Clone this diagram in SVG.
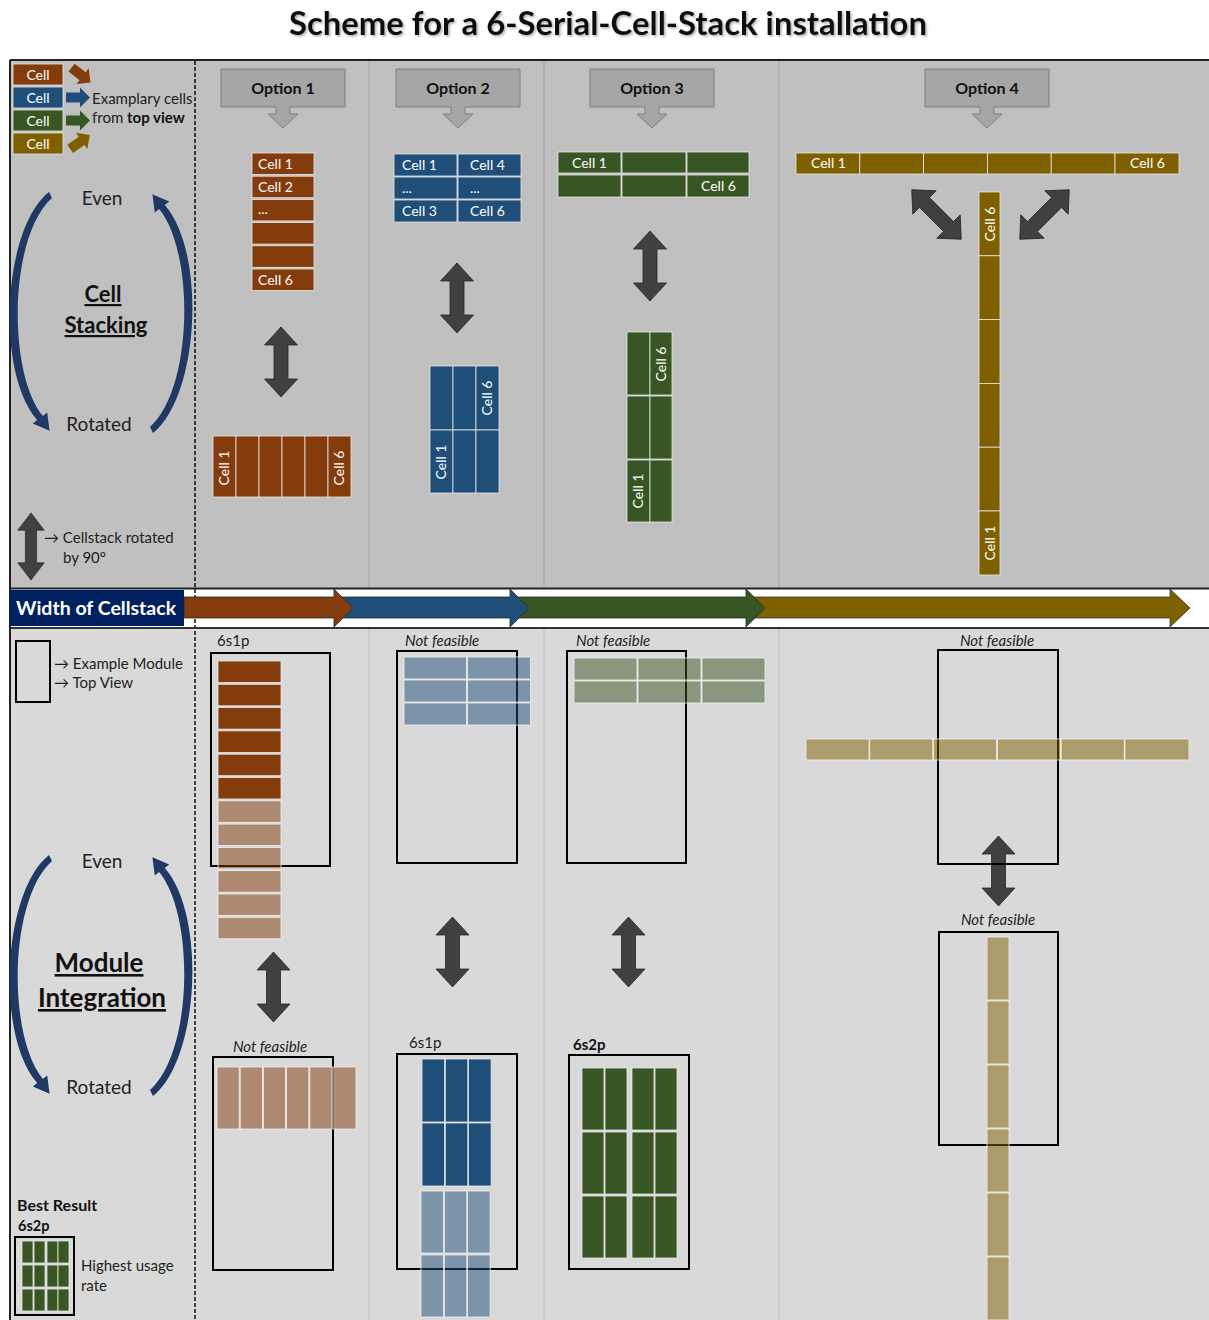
<svg xmlns="http://www.w3.org/2000/svg" xmlns:xlink="http://www.w3.org/1999/xlink" width="1209" height="1320" viewBox="0 0 1209 1320">
  <style>
    text { font-family: Lato, "Liberation Sans", sans-serif; }
    .title { font-size: 33px; font-weight: bold; fill: #111; }
    .hdr { font-size: 16px; font-weight: bold; fill: #111; text-anchor: middle; }
    .ct { font-size: 14px; fill: #fff; }
    .ctm { font-size: 14px; fill: #fff; text-anchor: middle; }
    .lbl { font-size: 15px; fill: #222; }
    .nf { font-size: 15px; font-style: italic; fill: #222; }
    .big { font-size: 19px; fill: #222; text-anchor: middle; }
    .sec { font-size: 22px; font-weight: bold; fill: #111; text-anchor: middle; text-decoration: underline; }
    .sec2 { font-size: 26px; font-weight: bold; fill: #111; text-anchor: middle; text-decoration: underline; }
    .c1 { fill: #843c0c; stroke: #e6e6e6; stroke-width: 0.8; }
    .c2 { fill: #1f4e79; stroke: #e6e6e6; stroke-width: 0.8; }
    .c3 { fill: #375623; stroke: #e6e6e6; stroke-width: 0.8; }
    .c4 { fill: #7f6000; stroke: #e6e6e6; stroke-width: 0.8; }
    .l1 { fill: #843c0c; fill-opacity: 0.5; stroke: #f0f0f0; stroke-width: 0.8; }
    .l2 { fill: #1f4e79; fill-opacity: 0.5; stroke: #f0f0f0; stroke-width: 0.8; }
    .l3 { fill: #375623; fill-opacity: 0.5; stroke: #f0f0f0; stroke-width: 0.8; }
    .l4 { fill: #7f6000; fill-opacity: 0.5; stroke: #f0f0f0; stroke-width: 0.8; }
    .mod { fill: none; stroke: #000; stroke-width: 2; }
    .callout { fill: #a6a6a6; stroke: #7f7f7f; stroke-width: 1; }
    .sep { stroke: #a6a6a6; stroke-width: 1; }
    .dbl { fill: #404040; stroke: #262626; stroke-width: 0.8; }
    .arc { fill: #1f3864; }
  </style>
  <defs>
    <filter id="shadow" x="-5%" y="-20%" width="110%" height="150%">
      <feDropShadow dx="1.5" dy="1.5" stdDeviation="1" flood-color="#777" flood-opacity="0.6"/>
    </filter>
    <!-- vertical double-headed block arrow, centred on the origin -->
    <path id="dblArrow" d="M0,-35 L16.5,-17 L7,-17 L7,17 L16.5,17 L0,35 L-16.5,17 L-7,17 L-7,-17 L-16.5,-17 Z"/>
    <!-- small block arrow pointing right -->
    <path id="smallArrow" d="M-12,-5 L2,-5 L2,-10 L12,0 L2,10 L2,5 L-12,5 Z"/>
    <!-- curved arrow on the left side, head at the bottom -->
    <path id="curve" d="M49,192 C3,228 -5,372 37.2,420.1 L32.8,423.4 L49.6,430.8 L47.2,412.6 L42.8,415.9 C7,372 9,236 52,198 Z"/>
  </defs>

  <!-- page -->
  <rect x="0" y="0" width="1209" height="1320" fill="#fff"/>
  <text class="title" x="608" y="35" text-anchor="middle" textLength="638" lengthAdjust="spacingAndGlyphs" filter="url(#shadow)">Scheme for a 6-Serial-Cell-Stack installation</text>

  <!-- panels -->
  <g id="panels">
    <rect x="10" y="60" width="1199" height="528" fill="#c0c0c0"/>
    <rect x="10" y="628" width="1199" height="692" fill="#d9d9d9"/>
    <rect x="10" y="589" width="1199" height="39" fill="#fff"/>
    <line class="sep" x1="369" y1="61" x2="369" y2="588"/>
    <line class="sep" x1="544" y1="61" x2="544" y2="588"/>
    <line class="sep" x1="779" y1="61" x2="779" y2="588"/>
    <line class="sep" x1="369" y1="629" x2="369" y2="1320" stroke-dasharray="1 1"/>
    <line class="sep" x1="544" y1="629" x2="544" y2="1320" stroke-dasharray="1 1"/>
    <line class="sep" x1="779" y1="629" x2="779" y2="1320" stroke-dasharray="1 1"/>
    <line x1="195" y1="61" x2="195" y2="1320" stroke="#111" stroke-width="1.5" stroke-dasharray="4 2"/>
    <line x1="10" y1="60" x2="1209" y2="60" stroke="#222" stroke-width="2"/>
    <line x1="10" y1="588.5" x2="1209" y2="588.5" stroke="#222" stroke-width="2"/>
    <line x1="10" y1="628" x2="1209" y2="628" stroke="#333" stroke-width="2"/>
    <line x1="10" y1="60" x2="10" y2="1320" stroke="#222" stroke-width="2"/>
  </g>

  <!-- legend: exemplary cells -->
  <g id="legend-cells">
    <rect class="c1" x="13" y="64" width="50" height="21"/>
    <rect class="c2" x="13" y="87" width="50" height="21"/>
    <rect class="c3" x="13" y="110" width="50" height="21"/>
    <rect class="c4" x="13" y="133" width="50" height="21"/>
    <text class="ctm" x="38" y="79.5">Cell</text>
    <text class="ctm" x="38" y="102.5">Cell</text>
    <text class="ctm" x="38" y="125.5">Cell</text>
    <text class="ctm" x="38" y="148.5">Cell</text>
    <use href="#smallArrow" fill="#843c0c" transform="translate(81,75) rotate(38)"/>
    <use href="#smallArrow" fill="#1f4e79" transform="translate(78,97.5)"/>
    <use href="#smallArrow" fill="#375623" transform="translate(78,120.5)"/>
    <use href="#smallArrow" fill="#7f6000" transform="translate(80,142) rotate(-35)"/>
    <text class="lbl" x="92" y="104" font-size="14">Examplary cells</text>
    <text class="lbl" x="92" y="123" font-size="14">from <tspan font-weight="bold" fill="#111">top view</tspan></text>
  </g>

  <!-- legend: cell stacking -->
  <g id="cell-stacking">
    <use href="#curve" class="arc"/>
    <use href="#curve" class="arc" transform="rotate(180 101 312.5)"/>
    <text class="big" x="102" y="205">Even</text>
    <text class="sec" x="103" y="302">Cell</text>
    <text class="sec" x="106" y="333">Stacking</text>
    <text class="big" x="99" y="431">Rotated</text>
  </g>

  <g id="legend-rotation">
    <use href="#dblArrow" class="dbl" transform="translate(31,546.5) scale(0.8,0.96)"/>
    <text class="lbl" x="44" y="543">→ Cellstack rotated</text>
    <text class="lbl" x="63" y="563">by 90°</text>
  </g>

  <!-- option headers -->
  <g id="option-1-header">
    <path class="callout" d="M221,69 H345 V107 H290 V114 H298 L283,128 L268,114 H276 V107 H221 Z"/>
    <text class="hdr" x="283" y="94">Option 1</text>
  </g>
  <g id="option-2-header">
    <path class="callout" d="M396,69 H520 V107 H465 V114 H473 L458,128 L443,114 H451 V107 H396 Z"/>
    <text class="hdr" x="458" y="94">Option 2</text>
  </g>
  <g id="option-3-header">
    <path class="callout" d="M590,69 H714 V107 H659 V114 H667 L652,128 L637,114 H645 V107 H590 Z"/>
    <text class="hdr" x="652" y="94">Option 3</text>
  </g>
  <g id="option-4-header">
    <path class="callout" d="M925,69 H1049 V107 H994 V114 H1002 L987,128 L972,114 H980 V107 H925 Z"/>
    <text class="hdr" x="987" y="94">Option 4</text>
  </g>

  <!-- option 1 stacks -->
  <g id="option-1-even">
    <rect class="c1" x="252" y="153" width="62" height="21.5"/>
    <rect class="c1" x="252" y="176.2" width="62" height="21.5"/>
    <rect class="c1" x="252" y="199.4" width="62" height="21.5"/>
    <rect class="c1" x="252" y="222.6" width="62" height="21.5"/>
    <rect class="c1" x="252" y="245.8" width="62" height="21.5"/>
    <rect class="c1" x="252" y="269" width="62" height="21.5"/>
    <text class="ct" x="258" y="168.5">Cell 1</text>
    <text class="ct" x="258" y="191.7">Cell 2</text>
    <text class="ct" x="258" y="214">...</text>
    <text class="ct" x="258" y="284.5">Cell 6</text>
  </g>
  <g id="option-1-rotated">
    <rect class="c1" x="213" y="436" width="23" height="61"/>
    <rect class="c1" x="236" y="436" width="23" height="61"/>
    <rect class="c1" x="259" y="436" width="23" height="61"/>
    <rect class="c1" x="282" y="436" width="23" height="61"/>
    <rect class="c1" x="305" y="436" width="23" height="61"/>
    <rect class="c1" x="328" y="436" width="23" height="61"/>
    <text class="ctm" transform="translate(229,468) rotate(-90)">Cell 1</text>
    <text class="ctm" transform="translate(344,468) rotate(-90)">Cell 6</text>
  </g>

  <!-- option 2 stacks -->
  <g id="option-2-even">
    <rect class="c2" x="394" y="154" width="63" height="22"/>
    <rect class="c2" x="458" y="154" width="63" height="22"/>
    <rect class="c2" x="394" y="177" width="63" height="22"/>
    <rect class="c2" x="458" y="177" width="63" height="22"/>
    <rect class="c2" x="394" y="200" width="63" height="22"/>
    <rect class="c2" x="458" y="200" width="63" height="22"/>
    <text class="ct" x="402" y="170">Cell 1</text>
    <text class="ct" x="470" y="170">Cell 4</text>
    <text class="ct" x="402" y="193">...</text>
    <text class="ct" x="470" y="193">...</text>
    <text class="ct" x="402" y="216">Cell 3</text>
    <text class="ct" x="470" y="216">Cell 6</text>
  </g>
  <g id="option-2-rotated">
    <rect class="c2" x="430" y="366" width="23" height="64"/>
    <rect class="c2" x="453" y="366" width="23" height="64"/>
    <rect class="c2" x="476" y="366" width="23" height="64"/>
    <rect class="c2" x="430" y="430" width="23" height="63"/>
    <rect class="c2" x="453" y="430" width="23" height="63"/>
    <rect class="c2" x="476" y="430" width="23" height="63"/>
    <text class="ctm" transform="translate(492,398) rotate(-90)">Cell 6</text>
    <text class="ctm" transform="translate(446,462) rotate(-90)">Cell 1</text>
  </g>

  <!-- option 3 stacks -->
  <g id="option-3-even">
    <rect class="c3" x="558" y="152" width="63" height="21"/>
    <rect class="c3" x="622" y="152" width="64" height="21"/>
    <rect class="c3" x="687" y="152" width="62" height="21"/>
    <rect class="c3" x="558" y="175" width="63" height="22"/>
    <rect class="c3" x="622" y="175" width="64" height="22"/>
    <rect class="c3" x="687" y="175" width="62" height="22"/>
    <text class="ct" x="572" y="168">Cell 1</text>
    <text class="ct" x="701" y="191">Cell 6</text>
  </g>
  <g id="option-3-rotated">
    <rect class="c3" x="627" y="332" width="23" height="63"/>
    <rect class="c3" x="650" y="332" width="22" height="63"/>
    <rect class="c3" x="627" y="396" width="23" height="63"/>
    <rect class="c3" x="650" y="396" width="22" height="63"/>
    <rect class="c3" x="627" y="460" width="23" height="62"/>
    <rect class="c3" x="650" y="460" width="22" height="62"/>
    <text class="ctm" transform="translate(665.5,364) rotate(-90)">Cell 6</text>
    <text class="ctm" transform="translate(643,491) rotate(-90)">Cell 1</text>
  </g>

  <!-- option 4 stacks -->
  <g id="option-4-even">
    <rect class="c4" x="796" y="153" width="63.8" height="21"/>
    <rect class="c4" x="859.8" y="153" width="63.8" height="21"/>
    <rect class="c4" x="923.6" y="153" width="63.8" height="21"/>
    <rect class="c4" x="987.4" y="153" width="63.8" height="21"/>
    <rect class="c4" x="1051.2" y="153" width="63.8" height="21"/>
    <rect class="c4" x="1115" y="153" width="64" height="21"/>
    <text class="ct" x="811" y="168">Cell 1</text>
    <text class="ct" x="1130" y="168">Cell 6</text>
  </g>
  <g id="option-4-rotated">
    <rect class="c4" x="979" y="192" width="21" height="63.8"/>
    <rect class="c4" x="979" y="255.8" width="21" height="63.8"/>
    <rect class="c4" x="979" y="319.6" width="21" height="63.8"/>
    <rect class="c4" x="979" y="383.4" width="21" height="63.8"/>
    <rect class="c4" x="979" y="447.2" width="21" height="63.8"/>
    <rect class="c4" x="979" y="511" width="21" height="64"/>
    <text class="ctm" transform="translate(994.5,224) rotate(-90)">Cell 6</text>
    <text class="ctm" transform="translate(994.5,543) rotate(-90)">Cell 1</text>
  </g>

  <!-- rotation arrows between stack variants -->
  <g id="connectors">
    <use href="#dblArrow" class="dbl" transform="translate(281,362)"/>
    <use href="#dblArrow" class="dbl" transform="translate(457,298)"/>
    <use href="#dblArrow" class="dbl" transform="translate(650,266)"/>
    <use href="#dblArrow" class="dbl" transform="translate(936.5,214.5) rotate(-45)"/>
    <use href="#dblArrow" class="dbl" transform="translate(1044.5,214.5) rotate(45)"/>
    <use href="#dblArrow" class="dbl" transform="translate(273.5,987)"/>
    <use href="#dblArrow" class="dbl" transform="translate(452.5,952)"/>
    <use href="#dblArrow" class="dbl" transform="translate(628.5,952)"/>
    <use href="#dblArrow" class="dbl" transform="translate(998.5,871)"/>
  </g>

  <!-- width of cellstack band -->
  <g id="width-band">
    <path d="M746,597 H1170 V589 L1190,608 L1170,627 V618 H746 Z" fill="#7f6000" stroke="#3a3a3a" stroke-width="0.8"/>
    <path d="M510,597 H746 V589 L765,608 L746,627 V618 H510 Z" fill="#375623" stroke="#2a2a2a" stroke-width="0.8"/>
    <path d="M334,597 H510 V589 L529,608 L510,627 V618 H334 Z" fill="#1f4e79" stroke="#2a2a2a" stroke-width="0.8"/>
    <path d="M184,597 H334 V589 L353,608 L334,627 V618 H184 Z" fill="#843c0c" stroke="#2a2a2a" stroke-width="0.8"/>
    <rect x="10" y="590" width="174" height="36" fill="#002060"/>
    <text x="16" y="615" font-size="19.5" font-weight="bold" fill="#fff">Width of Cellstack</text>
  </g>

  <!-- legend: module -->
  <g id="legend-module">
    <rect class="mod" x="16" y="641" width="34" height="61"/>
    <text class="lbl" x="54" y="669">→ Example Module</text>
    <text class="lbl" x="54" y="688">→ Top View</text>
  </g>

  <g id="module-integration">
    <use href="#curve" class="arc" transform="translate(0,663)"/>
    <use href="#curve" class="arc" transform="translate(0,663) rotate(180 101 312.5)"/>
    <text class="big" x="102" y="868">Even</text>
    <text class="sec2" x="99" y="972">Module</text>
    <text class="sec2" x="102" y="1007">Integration</text>
    <text class="big" x="99" y="1094">Rotated</text>
  </g>

  <g id="best-result">
    <text x="17" y="1211" font-size="16" font-weight="bold" fill="#111">Best Result</text>
    <text x="18" y="1231" font-size="14.5" font-weight="bold" fill="#111">6s2p</text>
    <rect class="mod" x="15" y="1237" width="59" height="78"/>
    <rect class="c3" x="22" y="1241" width="11" height="22"/>
    <rect class="c3" x="34" y="1241" width="11" height="22"/>
    <rect class="c3" x="47" y="1241" width="11" height="22"/>
    <rect class="c3" x="58" y="1241" width="11" height="22"/>
    <rect class="c3" x="22" y="1265" width="11" height="22"/>
    <rect class="c3" x="34" y="1265" width="11" height="22"/>
    <rect class="c3" x="47" y="1265" width="11" height="22"/>
    <rect class="c3" x="58" y="1265" width="11" height="22"/>
    <rect class="c3" x="22" y="1289" width="11" height="22"/>
    <rect class="c3" x="34" y="1289" width="11" height="22"/>
    <rect class="c3" x="47" y="1289" width="11" height="22"/>
    <rect class="c3" x="58" y="1289" width="11" height="22"/>
    <text class="lbl" x="81" y="1271">Highest usage</text>
    <text class="lbl" x="81" y="1291">rate</text>
  </g>

  <!-- option 1 modules -->
  <g id="option-1-module-even">
    <text class="lbl" x="217" y="646">6s1p</text>
    <rect class="mod" x="211" y="653" width="119" height="213"/>
    <rect class="c1" x="218" y="661" width="63" height="21.5"/>
    <rect class="c1" x="218" y="684.3" width="63" height="21.5"/>
    <rect class="c1" x="218" y="707.6" width="63" height="21.5"/>
    <rect class="c1" x="218" y="730.9" width="63" height="21.5"/>
    <rect class="c1" x="218" y="754.2" width="63" height="21.5"/>
    <rect class="c1" x="218" y="777.5" width="63" height="21.5"/>
    <rect class="l1" x="218" y="800.8" width="63" height="21.5"/>
    <rect class="l1" x="218" y="824.1" width="63" height="21.5"/>
    <rect class="l1" x="218" y="847.4" width="63" height="21.5"/>
    <rect class="l1" x="218" y="870.7" width="63" height="21.5"/>
    <rect class="l1" x="218" y="894" width="63" height="21.5"/>
    <rect class="l1" x="218" y="917.3" width="63" height="21.5"/>
  </g>
  <g id="option-1-module-rotated">
    <text class="nf" x="270" y="1052" text-anchor="middle">Not feasible</text>
    <rect class="mod" x="213" y="1057" width="120" height="213"/>
    <rect class="l1" x="217" y="1067" width="22.2" height="62"/>
    <rect class="l1" x="240.2" y="1067" width="22.2" height="62"/>
    <rect class="l1" x="263.4" y="1067" width="22.2" height="62"/>
    <rect class="l1" x="286.6" y="1067" width="22.2" height="62"/>
    <rect class="l1" x="309.8" y="1067" width="22.2" height="62"/>
    <rect class="l1" x="333" y="1067" width="23" height="62"/>
  </g>

  <!-- option 2 modules -->
  <g id="option-2-module-even">
    <text class="nf" x="405" y="646">Not feasible</text>
    <rect class="mod" x="397" y="651" width="120" height="212"/>
    <rect class="l2" x="404" y="657" width="62.5" height="22"/>
    <rect class="l2" x="467.5" y="657" width="63" height="22"/>
    <rect class="l2" x="404" y="680" width="62.5" height="22"/>
    <rect class="l2" x="467.5" y="680" width="63" height="22"/>
    <rect class="l2" x="404" y="703" width="62.5" height="22"/>
    <rect class="l2" x="467.5" y="703" width="63" height="22"/>
  </g>
  <g id="option-2-module-rotated">
    <text class="lbl" x="409" y="1048">6s1p</text>
    <rect class="mod" x="397" y="1054" width="120" height="215"/>
    <rect class="c2" x="422" y="1059" width="22.5" height="63"/>
    <rect class="c2" x="445.3" y="1059" width="22.5" height="63"/>
    <rect class="c2" x="468.6" y="1059" width="22.5" height="63"/>
    <rect class="c2" x="422" y="1123" width="22.5" height="63"/>
    <rect class="c2" x="445.3" y="1123" width="22.5" height="63"/>
    <rect class="c2" x="468.6" y="1123" width="22.5" height="63"/>
    <rect class="l2" x="421" y="1191" width="22.5" height="62"/>
    <rect class="l2" x="444.3" y="1191" width="22.5" height="62"/>
    <rect class="l2" x="467.6" y="1191" width="22.5" height="62"/>
    <rect class="l2" x="421" y="1255" width="22.5" height="62"/>
    <rect class="l2" x="444.3" y="1255" width="22.5" height="62"/>
    <rect class="l2" x="467.6" y="1255" width="22.5" height="62"/>
  </g>

  <!-- option 3 modules -->
  <g id="option-3-module-even">
    <text class="nf" x="576" y="646">Not feasible</text>
    <rect class="mod" x="567" y="651" width="119" height="212"/>
    <rect class="l3" x="574" y="658" width="63" height="22"/>
    <rect class="l3" x="638" y="658" width="63" height="22"/>
    <rect class="l3" x="702" y="658" width="63" height="22"/>
    <rect class="l3" x="574" y="681" width="63" height="22"/>
    <rect class="l3" x="638" y="681" width="63" height="22"/>
    <rect class="l3" x="702" y="681" width="63" height="22"/>
  </g>
  <g id="option-3-module-rotated">
    <text x="573" y="1050" font-size="15" font-weight="bold" fill="#111">6s2p</text>
    <rect class="mod" x="569" y="1055" width="120" height="214"/>
    <rect class="c3" x="582" y="1068" width="22" height="62"/>
    <rect class="c3" x="605" y="1068" width="22" height="62"/>
    <rect class="c3" x="632" y="1068" width="22" height="62"/>
    <rect class="c3" x="655" y="1068" width="22" height="62"/>
    <rect class="c3" x="582" y="1132" width="22" height="62"/>
    <rect class="c3" x="605" y="1132" width="22" height="62"/>
    <rect class="c3" x="632" y="1132" width="22" height="62"/>
    <rect class="c3" x="655" y="1132" width="22" height="62"/>
    <rect class="c3" x="582" y="1196" width="22" height="62"/>
    <rect class="c3" x="605" y="1196" width="22" height="62"/>
    <rect class="c3" x="632" y="1196" width="22" height="62"/>
    <rect class="c3" x="655" y="1196" width="22" height="62"/>
  </g>

  <!-- option 4 modules -->
  <g id="option-4-module-even">
    <text class="nf" x="997" y="646" text-anchor="middle">Not feasible</text>
    <rect class="mod" x="938" y="650" width="120" height="214"/>
    <rect class="l4" x="806" y="739" width="63" height="21"/>
    <rect class="l4" x="869.8" y="739" width="63" height="21"/>
    <rect class="l4" x="933.6" y="739" width="63" height="21"/>
    <rect class="l4" x="997.4" y="739" width="63" height="21"/>
    <rect class="l4" x="1061.2" y="739" width="63" height="21"/>
    <rect class="l4" x="1125" y="739" width="64" height="21"/>
  </g>
  <g id="option-4-module-rotated">
    <text class="nf" x="998" y="925" text-anchor="middle">Not feasible</text>
    <rect class="mod" x="939" y="932" width="119" height="213"/>
    <rect class="l4" x="987" y="937" width="22" height="63"/>
    <rect class="l4" x="987" y="1001" width="22" height="63"/>
    <rect class="l4" x="987" y="1065" width="22" height="63"/>
    <rect class="l4" x="987" y="1129" width="22" height="63"/>
    <rect class="l4" x="987" y="1193" width="22" height="63"/>
    <rect class="l4" x="987" y="1257" width="22" height="63"/>
  </g>
</svg>
